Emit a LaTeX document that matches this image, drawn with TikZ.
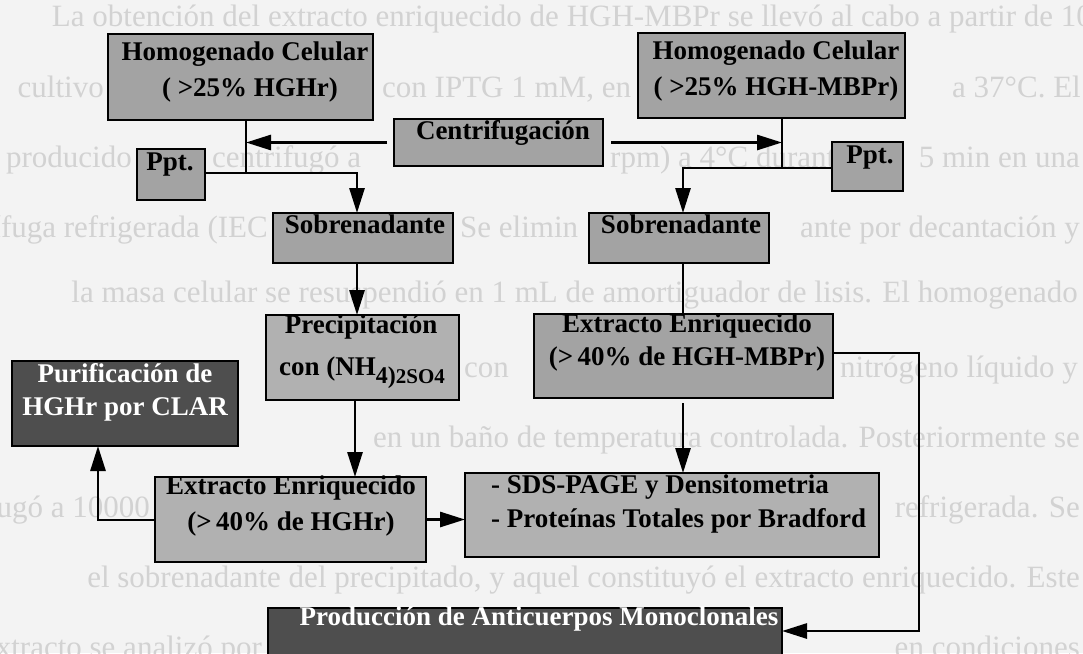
\documentclass[tikz,border=0pt]{standalone}
\usepackage{fontspec}
\setmainfont{Liberation Serif}
\usetikzlibrary{arrows.meta}
\definecolor{paper}{HTML}{F3F3F3}
\definecolor{ghost}{HTML}{D2D2D2}
\definecolor{boxmid}{HTML}{A3A3A3}
\definecolor{boxlight}{HTML}{B1B1B1}
\definecolor{boxdark}{HTML}{4E4E4E}
\tikzset{
  stage/.style={draw=black, line width=2.8pt, fill=boxmid, rectangle, inner sep=0pt, outer sep=0pt},
  stagelight/.style={stage, fill=boxlight},
  stagedark/.style={stage, fill=boxdark},
  txt/.style={font=\bfseries\fontsize{27}{32}\selectfont, inner sep=0pt, anchor=base},
  wtxt/.style={txt, text=white},
  ghostE/.style={font=\fontsize{31}{37}\selectfont, text=ghost, inner sep=0pt, anchor=base east},
  ghostW/.style={ghostE, anchor=base west},
  link/.style={line width=2.8pt, draw=black},
  flow/.style={link, -{Triangle[length=25pt,width=15pt]}},
}
\begin{document}
\begin{tikzpicture}[x=1pt,y=-1pt]
\useasboundingbox (0,0) rectangle (1083,653);
\fill[paper] (0,0) rectangle (1083,653);

% page text showing through between the boxes
\node[ghostE] (g1) at (1092,27) {La obtención del extracto enriquecido de HGH-MBPr se llevó al cabo a partir de 10};
\node[ghostE] (g2a) at (104,97) {cultivo};
\node[ghostW] (g2b) at (382,97) {con IPTG 1 mM, en};
\node[ghostE] (g2c) at (1081,97) {a 37°C. El};
\node[ghostE] (g3a) at (132,167) {producido};
\node[ghostW] (g3b) at (212,167) {centrifugó a};
\node[ghostW] (g3c) at (610,167) {rpm) a 4°C durante};
\node[ghostE] (g3d) at (1080,167) {5 min en una};
\node[ghostE] (g4a) at (268,237) {centrífuga refrigerada (IEC};
\node[ghostW] (g4b) at (460,237) {Se elimin};
\node[ghostE] (g4c) at (1080,237) {ante por decantación y};
\node[ghostE] (g5) at (1078,302) {la masa celular se resuspendió en 1 mL de amortiguador de lisis. El homogenado};
\node[ghostW] (g6a) at (464,377) {con};
\node[ghostE] (g6b) at (1078,377) {nitrógeno líquido y};
\node[ghostE] (g7) at (1080,447) {en un baño de temperatura controlada. Posteriormente se};
\node[ghostE] (g8a) at (150,517) {rifugó a 10000};
\node[ghostE] (g8b) at (1080,517) {refrigerada. Se};
\node[ghostE] (g9) at (1080,587) {el sobrenadante del precipitado, y aquel constituyó el extracto enriquecido. Este};
\node[ghostE] (g10a) at (262,657) {extracto se analizó por};
\node[ghostE] (g10b) at (1080,657) {en condiciones};

% boxes
\node[stage, minimum width=265pt, minimum height=86pt] (hL) at (240.5,77) {};
\node[stage, minimum width=267pt, minimum height=85pt] (hR) at (771.5,75.5) {};
\node[stage, minimum width=209pt, minimum height=47pt] (cen) at (498.5,142.5) {};
\node[stage, minimum width=68pt, minimum height=51pt] (pL) at (171,174.5) {};
\node[stage, minimum width=71pt, minimum height=49pt] (pR) at (867.5,166.5) {};
\node[stage, minimum width=180pt, minimum height=50pt] (sL) at (363,238) {};
\node[stage, minimum width=180pt, minimum height=50pt] (sR) at (679,238) {};
\node[stagelight, minimum width=193pt, minimum height=85pt] (prec) at (362.5,357.5) {};
\node[stage, minimum width=299pt, minimum height=84pt] (eR) at (683.5,356) {};
\node[stagedark, minimum width=226pt, minimum height=85pt] (pur) at (125,403.5) {};
\node[stagelight, minimum width=271pt, minimum height=85pt] (eL) at (290.5,519.5) {};
\node[stagelight, minimum width=414pt, minimum height=84pt] (sds) at (672,515) {};
\node[stagedark, minimum width=514pt, minimum height=80pt] (prod) at (525,648) {};

% box texts
\node[txt] (hL1) at (245,60) {Homogenado Celular};
\node[txt] (hL2) at (250,96) {( >25\% HGHr)};
\node[txt] (hR1) at (776,59) {Homogenado Celular};
\node[txt] (hR2) at (776,95) {( >25\% HGH-MBPr)};
\node[txt] (cen1) at (503,139) {Centrifugación};
\node[txt] (pL1) at (170,170) {Ppt.};
\node[txt] (pR1) at (870,163) {Ppt.};
\node[txt] (sL1) at (365,233) {Sobrenadante};
\node[txt] (sR1) at (681,233) {Sobrenadante};
\node[txt] (prec1) at (361,333) {Precipitación};
\node[txt] (prec2) at (362,375) {con (NH\raisebox{-8pt}{\fontsize{24}{24}\selectfont 4)\fontsize{21}{21}\selectfont 2SO4}};
\node[txt] (eR1) at (687,332) {Extracto Enriquecido};
\node[txt] (eR2) at (687,365) {(>\,40\% de HGH-MBPr)};
\node[wtxt] (pur1) at (125,382) {Purificación de};
\node[wtxt] (pur2) at (125,415) {HGHr por CLAR};
\node[txt] (eL1) at (291,494) {Extracto Enriquecido};
\node[txt] (eL2) at (291,530) {(>\,40\% de HGHr)};
\node[txt, anchor=base west] (sds1) at (491,493) {- SDS-PAGE y Densitometria};
\node[txt, anchor=base west] (sds2) at (491,527) {- Proteínas Totales por Bradford};
\node[wtxt] (prod1) at (539,625) {Producción de Anticuerpos Monoclonales};

% junction points of the connectors
\coordinate (jL) at (246,173);
\coordinate (kL) at (357,173);
\coordinate (jR) at (782,168);
\coordinate (kR) at (683,168);
\coordinate (cL) at (355,0);
\coordinate (pU) at (98,520);
\coordinate (qT) at (919,353);
\coordinate (qB) at (919,631);

% left branch
\draw[link] (jL |- hL.south) -- (jL);
\draw[flow, shorten <=7pt] (cen.west) -- (cen.west -| jL);
\draw[flow] (jL -| pL.east) -- (kL) -- (kL |- sL.north);
\draw[flow] (kL |- sL.south) -- (kL |- prec.north);
\draw[flow] (cL |- prec.south) -- (cL |- eL.north);
\draw[flow] (eL.west |- pU) -- (pU) -- (pU |- pur.south);
\draw[flow] (eL.east) -- (eL.east -| sds.west);

% right branch
\draw[link] (jR |- hR.south) -- (jR);
\draw[flow, shorten <=8pt] (cen.east) -- (cen.east -| jR);
\draw[flow] (jR -| pR.west) -- (kR) -- (kR |- sR.north);
\draw[link] (kR |- sR.south) -- (kR |- eR.north);
\draw[flow, shorten <=5pt] (kR |- eR.south) -- (kR |- sds.north);
\draw[flow] (qT -| eR.east) -- (qT) -- (qB) -- (qB -| prod.east);
\end{tikzpicture}
\end{document}
